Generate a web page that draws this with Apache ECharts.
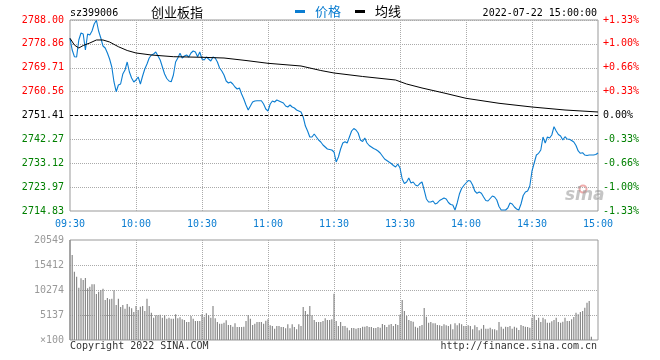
<!DOCTYPE html>
<html><head><meta charset="utf-8">
<script src="https://cdn.jsdelivr.net/npm/echarts@6/dist/echarts.min.js"></script>
<style>html,body{margin:0;padding:0;background:#fff}#c{width:660px;height:360px}</style>
</head><body><div id="c"></div>
<script>
const prevClose = 2751.41;
const priceMin = 2714.83;
const priceMax = 2788.00;
const volMax = 20549;
const timeLabels = ['09:30','10:00','10:30','11:00','11:30','13:30','14:00','14:30','15:00'];
const leftLabels = ['2714.83','2723.97','2733.12','2742.27','2751.41','2760.56','2769.71','2778.86','2788.00'];
const rightLabels = ['-1.33%','-1.00%','-0.66%','-0.33%','0.00%','+0.33%','+0.66%','+1.00%','+1.33%'];
const volLabels = ['\u00d7100','5137','10274','15412','20549'];

const price = [
2780.99,2776.51,2773.94,2773.83,2780.34,2783.02,2782.64,2776.51,2782.64,2782.25,
2783.79,2786.47,2787.90,2783.79,2781.10,2778.04,2777.27,2775.36,2773.06,2769.99,
2764.25,2760.53,2763.10,2763.48,2767.31,2768.85,2771.91,2768.08,2765.78,2764.25,
2765.01,2766.16,2763.48,2766.55,2769.23,2771.14,2773.44,2774.59,2774.97,2775.74,
2774.21,2772.68,2769.99,2767.31,2765.59,2764.63,2764.36,2766.93,2771.91,2773.44,
2775.24,2773.44,2774.21,2774.59,2773.83,2775.36,2776.12,2775.74,2773.94,2775.74,
2773.06,2772.68,2773.83,2773.06,2772.29,2773.83,2773.44,2771.91,2769.61,2768.46,
2766.93,2764.63,2763.87,2764.25,2763.48,2762.33,2761.57,2761.95,2759.65,2757.74,
2755.44,2753.52,2755.05,2756.59,2756.97,2757.08,2757.08,2757.08,2755.82,2753.91,
2753.14,2755.82,2756.97,2756.59,2757.35,2756.97,2756.59,2756.20,2755.05,2754.67,
2755.44,2754.67,2754.29,2753.52,2753.14,2752.76,2750.84,2747.39,2745.48,2743.18,
2743.18,2744.33,2743.18,2742.03,2741.26,2740.11,2739.35,2738.58,2738.39,2738.20,
2737.43,2733.60,2735.52,2738.58,2740.88,2741.38,2740.88,2743.18,2745.48,2746.43,
2745.86,2744.71,2742.03,2741.45,2742.80,2740.88,2739.92,2739.35,2738.77,2738.39,
2737.82,2737.05,2735.90,2734.75,2734.18,2733.60,2733.03,2732.26,2731.69,2732.84,
2731.30,2727.09,2725.36,2725.94,2727.47,2725.56,2725.94,2724.79,2724.41,2725.36,
2725.94,2722.87,2719.43,2718.28,2718.28,2718.66,2717.51,2717.90,2718.85,2719.31,
2719.81,2719.43,2718.09,2717.32,2717.13,2715.21,2717.90,2721.34,2723.45,2724.60,
2725.56,2726.51,2726.32,2724.79,2722.49,2721.61,2722.11,2721.61,2720.19,2718.85,
2718.66,2719.62,2720.58,2720.19,2719.04,2716.55,2715.21,2715.21,2715.21,2715.98,
2717.90,2717.51,2716.36,2715.60,2715.21,2717.51,2720.77,2722.11,2722.49,2724.41,
2730.15,2733.22,2736.28,2736.93,2738.20,2743.18,2740.88,2743.18,2742.80,2743.94,
2747.12,2745.48,2744.14,2743.56,2742.03,2743.29,2742.41,2742.30,2741.84,2741.26,
2739.92,2737.82,2736.93,2737.16,2736.28,2736.09,2736.28,2736.28,2736.28,2736.47,
2737.05
];

const avgMinutes = [0,2,4,6,9,12,15,18,22,26,30,37,47,60,70,80,90,105,114,120,133,148,153,160,170,180,195,210,225,240];
const avgPrice = [2780.99,2778.42,2777.27,2778.23,2779.19,2780.34,2780.34,2779.57,2777.77,2776.32,
2775.36,2774.59,2773.94,2773.71,2773.44,2772.48,2771.41,2770.38,2768.65,2767.70,
2766.36,2765.01,2763.48,2761.95,2760.03,2758.00,2756.09,2754.67,2753.52,2752.76];

const volume = [
20549,
17468,14043,13015,10755,12673,12330,12741,10618,10960,11440,
11440,9453,9933,10275,10549,8220,8631,8357,8494,10207,
7193,8494,6782,7193,6439,7398,6850,6508,5754,6987,
6165,6850,6987,5960,8494,6987,5617,4590,5069,5069,
5206,4590,5069,4384,4590,4384,4384,5275,4453,4658,
4247,4110,3699,3699,4932,4384,3905,3905,3905,5275,
4795,5480,5069,4590,6987,4453,3699,3357,3357,3562,
4042,3083,3083,2740,3425,2672,2672,2672,2740,3905,
5138,4384,3083,3357,3699,3699,3699,3357,3973,4247,
3014,2877,2329,2877,2877,2672,2672,2398,3220,2398,
3220,2672,2192,3220,2877,6782,5960,5275,6987,5069,
4110,3699,3699,3699,3905,4453,4110,4110,4247,9514,
3905,2877,3699,2877,2877,2535,1987,2466,2466,2329,
2466,2466,2740,2740,2877,2672,2672,2466,2466,2672,
2535,3288,3083,2672,3151,3288,2877,3288,3083,5206,
8220,5960,4932,4110,3905,3768,2740,2535,2877,3083,
6576,4795,3562,3699,3425,3425,3083,3014,2877,3220,
3014,2877,3220,2192,3425,3014,3425,3220,2877,2877,
3014,2877,2192,3014,2672,1987,2329,3083,2329,2329,
2535,2192,2192,1987,3699,2740,2329,2740,2672,2877,
2329,2740,2535,2055,3083,2877,2740,2672,2535,4590,
5138,4110,4590,3699,4590,4247,3562,3562,3836,4110,
4590,3699,3562,3768,4590,3905,3905,4247,4727,5617,
5275,5754,5960,6645,7672,8015,685,0,0,0
];

const MONO = '"DejaVu Sans Mono", monospace';
const CJK = '"Noto Sans CJK SC", sans-serif';
const BLUE = '#0b7dd1';
const GRID = '#aaaaaa';
const BORDER = '#999999';
function labelColor(i){ return i < 4 ? '#008000' : (i === 4 ? '#000000' : '#ff0000'); }

const chart = echarts.init(document.getElementById('c'), null, {renderer:'canvas'});
const dotted = {color: GRID, width: 1, type: [1, 1]};
chart.setOption({
  animation: false,
  backgroundColor: '#ffffff',
  grid: [
    {left: 70, top: 20, width: 528, height: 191, show: true, borderColor: BORDER, borderWidth: 1, backgroundColor: 'transparent'},
    {left: 70, top: 240, width: 528, height: 100, show: true, borderColor: BORDER, borderWidth: 1, backgroundColor: 'transparent'}
  ],
  legend: {
    left: 295, top: 5, padding: 0, itemWidth: 10, itemHeight: 3, itemGap: 14,
    selectedMode: false,
    textStyle: {fontFamily: CJK, fontSize: 13, padding: [0, 0, 0, 5]},
    data: [
      {name: '价格', icon: 'rect', itemStyle: {color: BLUE}, textStyle: {color: BLUE}},
      {name: '均线', icon: 'rect', itemStyle: {color: '#000'}, textStyle: {color: '#000'}}
    ]
  },
  xAxis: [
    {type: 'value', gridIndex: 0, min: 0, max: 240, interval: 30,
     axisLine: {show: false}, axisTick: {show: false},
     splitLine: {show: true, showMinLine: false, showMaxLine: false, lineStyle: dotted},
     axisLabel: {show: true, margin: 8, color: BLUE, fontFamily: MONO, fontSize: 10,
       showMinLabel: true, showMaxLabel: true,
       formatter: (v, i) => timeLabels[i]}},
    {type: 'value', gridIndex: 1, min: 0, max: 240, interval: 30,
     axisLine: {show: false}, axisTick: {show: false}, axisLabel: {show: false},
     splitLine: {show: true, showMinLine: false, showMaxLine: false, lineStyle: dotted}}
  ],
  yAxis: [
    {type: 'value', gridIndex: 0, min: priceMin, max: priceMax, interval: (priceMax - priceMin) / 8,
     position: 'left', axisLine: {show: false}, axisTick: {show: false},
     splitLine: {show: true, showMinLine: false, showMaxLine: false, lineStyle: dotted},
     axisLabel: {margin: 6, fontFamily: MONO, fontSize: 10, showMinLabel: true, showMaxLabel: true,
       color: (v, i) => labelColor(i), formatter: (v, i) => leftLabels[i]}},
    {type: 'value', gridIndex: 0, min: priceMin, max: priceMax, interval: (priceMax - priceMin) / 8,
     position: 'right', axisLine: {show: false}, axisTick: {show: false}, splitLine: {show: false},
     axisLabel: {margin: 5, fontFamily: MONO, fontSize: 10, showMinLabel: true, showMaxLabel: true,
       color: (v, i) => labelColor(i), formatter: (v, i) => rightLabels[i]}},
    {type: 'value', gridIndex: 1, min: 0, max: volMax, interval: volMax / 4,
     axisLine: {show: false}, axisTick: {show: false},
     splitLine: {show: true, showMinLine: false, showMaxLine: false, lineStyle: dotted},
     axisLabel: {margin: 6, color: '#999999', fontFamily: MONO, fontSize: 10, showMinLabel: true, showMaxLabel: true,
       formatter: (v, i) => volLabels[i]}}
  ],
  series: [
    {name: '价格', type: 'line', xAxisIndex: 0, yAxisIndex: 0, showSymbol: false, symbol: 'none',
     color: BLUE, lineStyle: {color: BLUE, width: 1.1}, itemStyle: {color: BLUE},
     data: price.map((p, i) => [i, p]),
     markLine: {silent: true, symbol: ['none', 'none'], label: {show: false},
       lineStyle: {color: '#000', width: 1, type: [3, 2]}, data: [{yAxis: prevClose}]}},
    {name: '均线', type: 'line', xAxisIndex: 0, yAxisIndex: 0, showSymbol: false, symbol: 'none',
     color: '#000', lineStyle: {color: '#000', width: 1}, itemStyle: {color: '#000'},
     data: avgMinutes.map((m, i) => [m, avgPrice[i]])},
    {name: '成交量', type: 'bar', xAxisIndex: 1, yAxisIndex: 2, barWidth: 1.2,
     itemStyle: {color: '#8a8a8a'}, data: volume.map((v, i) => [i, v])}
  ],
  graphic: [
    {type: 'text', x: 70, y: 13, style: {text: 'sz399006', font: '10px ' + MONO, fill: '#000', verticalAlign: 'middle'}},
    {type: 'text', x: 177, y: 12, style: {text: '创业板指', font: '13px ' + CJK, fill: '#000', align: 'center', verticalAlign: 'middle'}},
    {type: 'text', x: 597, y: 13, style: {text: '2022-07-22 15:00:00', font: '10px ' + MONO, fill: '#000', align: 'right', verticalAlign: 'middle'}},
    {type: 'text', x: 70, y: 346, style: {text: 'Copyright 2022 SINA.COM', font: '10px ' + MONO, fill: '#333', verticalAlign: 'middle'}},
    {type: 'text', x: 597, y: 346, style: {text: 'http://finance.sina.com.cn', font: '10px ' + MONO, fill: '#333', align: 'right', verticalAlign: 'middle'}},
    {type: 'circle', shape: {cx: 583, cy: 189, r: 3.5}, style: {fill: 'none', stroke: 'rgba(225,90,90,0.5)', lineWidth: 2}},
    {type: 'text', x: 565, y: 204, style: {text: 'sina', font: 'italic bold 17px "DejaVu Sans"', fill: 'rgba(150,150,150,0.55)', verticalAlign: 'bottom'}}
  ]
});
</script>
</body></html>
